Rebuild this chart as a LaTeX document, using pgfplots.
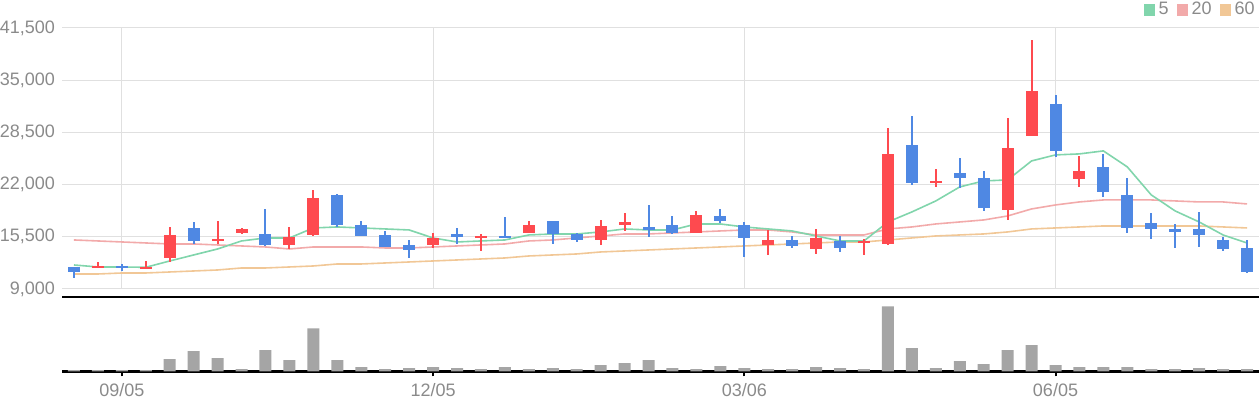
\documentclass[border=0pt]{standalone}
\usepackage{fontspec}
\setmainfont{Liberation Sans}
\usepackage{pgfplots}
\usepackage{pgfplotstable}
\pgfplotsset{compat=1.18}
\definecolor{upred}{HTML}{FE4A4F}
\definecolor{downblue}{HTML}{4F88E3}
\definecolor{maA}{HTML}{81D5AC}
\definecolor{maB}{HTML}{F2AAAA}
\definecolor{maC}{HTML}{F1C796}
\definecolor{volgray}{HTML}{A5A5A5}
\definecolor{gridgray}{HTML}{E0E0E0}
\definecolor{labelgray}{HTML}{8A8A8A}

% up (red) candles: x open high low close
\pgfplotstableread{
x o h l c
1 11620 12360 11620 11870
3 11490 12490 11490 11740
4 12860 16725 12360 15730
6 14980 17470 14610 15230
7 15980 16600 15850 16480
9 14480 16725 13980 15480
10 15730 21335 15600 20340
15 14480 15980 14110 15355
17 15355 15850 13735 15600
19 15980 17470 15980 16975
22 15100 17600 14480 16850
23 16975 18470 16230 17350
26 15980 18720 15980 18220
29 14480 16350 13240 15100
31 13980 16480 13360 15355
33 14730 15230 13240 14980
34 14610 29060 14480 25820
36 22210 23950 21710 22455
39 18840 30300 17600 26570
40 28060 40020 28060 33670
42 22700 25570 21710 23700
}\up
% down (blue) candles
\pgfplotstableread{
x o h l c
0 11740 11740 10370 11120
2 11870 12115 11240 11620
5 16600 17350 14610 14980
8 15850 18970 14360 14480
11 20710 20840 16725 16975
12 16975 17470 15600 15600
13 15730 16230 14230 14230
14 14480 15100 12860 13860
16 15850 16600 14610 15480
18 15600 17970 15355 15355
20 17470 17470 14610 15850
21 15850 15980 14860 15100
24 16725 19470 15480 16350
25 16975 18100 15850 15980
27 18100 18970 17220 17470
28 16975 17350 12990 15355
30 15100 15600 14110 14360
32 14980 15600 13610 14110
35 26940 30550 21960 22210
37 23450 25320 21580 22830
38 22830 23700 18720 19090
41 32050 33170 25450 26190
43 24200 25820 20460 21085
44 20710 22830 15980 16600
45 17220 18470 15230 16480
46 16480 17100 14110 16100
47 16480 18600 14230 15730
48 15100 15480 13735 13980
49 14110 15100 10990 11120
}\down
% moving averages
\pgfplotstableread{
x ma5 ma20 ma60
0 11990 15105 10868
1 11741 14981 10868
2 11741 14856 10993
3 11700 14731 10993
4 12489 14607 11118
5 13237 14607 11243
6 13984 14482 11367
7 14981 14358 11617
8 15355 14233 11617
9 15355 13984 11741
10 16600 14233 11866
11 16725 14233 12115
12 16600 14233 12115
13 16476 14108 12240
14 16351 14108 12364
15 15355 14233 12489
16 14856 14358 12613
17 14981 14482 12738
18 15105 14607 12862
19 15728 14981 13111
20 15853 15105 13237
21 15853 15355 13361
22 16102 15603 13610
23 16476 15853 13735
24 16351 15853 13859
25 16351 15977 13984
26 17098 16102 14108
27 17098 16227 14233
28 16725 16351 14358
29 16476 16351 14482
30 16227 16102 14607
31 15603 15728 14731
32 14981 15728 14856
33 14981 15728 14856
34 17347 16476 15105
35 18594 16725 15355
36 19964 17098 15603
37 21709 17347 15728
38 22455 17597 15853
39 22580 18094 16102
40 24947 18968 16476
41 25696 19466 16600
42 25821 19840 16725
43 26194 20089 16849
44 24199 20089 16849
45 20712 20089 16849
46 18718 19964 16849
47 17347 19840 16849
48 15728 19840 16725
49 14731 19590 16600
}\ma
% volume (relative units)
\pgfplotstableread{
x v
0 4
1 4
2 4
3 4
4 37
5 61
6 40
7 7
8 64
9 34
10 130
11 34
12 13
13 7
14 10
15 13
16 10
17 7
18 13
19 7
20 10
21 7
22 19
23 25
24 34
25 10
26 7
27 16
28 10
29 7
30 7
31 13
32 10
33 7
34 196
35 70
36 10
37 31
38 22
39 64
40 79
41 19
42 13
43 13
44 13
45 7
46 7
47 10
48 7
49 7
}\vol

\pgfplotsset{
  candlewick/.style={forget plot, mark=none, draw=none,
    error bars/.cd, y dir=both, y explicit, error mark=none,
    error bar style={line width=1pt, draw=#1}},
  candlebody/.style={forget plot, mark=none, draw=none,
    error bars/.cd, y dir=both, y explicit, error mark=none,
    error bar style={line width=6pt, draw=#1}},
}

\begin{document}
\begin{tikzpicture}
\useasboundingbox (0pt,0pt) rectangle (630pt,200pt);
\begin{axis}[
  at={(31pt,55.5pt)}, anchor=south west,
  width=598.5pt, height=130.5pt, scale only axis,
  xmin=-0.5, xmax=49.5, ymin=9000, ymax=41500,
  axis line style={draw=none},
  xtick={2,15,28,41}, xticklabels={},
  ytick={9000,15500,22000,28500,35000,41500},
  scaled y ticks=false,
  major tick length=0pt,
  grid=major, grid style={draw=gridgray, line width=0.5pt},
  tick label style={font=\fontsize{9}{9}\selectfont, text=labelgray},
  yticklabel style={/pgf/number format/fixed, /pgf/number format/1000 sep={,}, /pgf/number format/assume math mode=true},
  clip=false,
  legend image code/.code={\fill[#1, draw=none] (0pt,-3pt) rectangle (5.5pt,3pt);},
  legend style={at={(axis description cs:1,1)}, anchor=east, xshift=-1.5pt, yshift=9pt,
    draw=none, fill=none, inner sep=0pt, font=\fontsize{9}{9}\selectfont, text=labelgray,
    legend columns=-1, nodes={inner sep=0.5pt},
    /tikz/every odd column/.append style={column sep=1.5pt},
    /tikz/every even column/.append style={column sep=3.5pt}},
]
\addplot[forget plot, maC, line width=0.8pt] table[x=x, y=ma60]{\ma};
\addplot[forget plot, maB, line width=0.8pt] table[x=x, y=ma20]{\ma};
\addplot[forget plot, maA, line width=0.8pt] table[x=x, y=ma5]{\ma};
\addplot[candlewick=upred] table[x=x, y expr={(\thisrow{h}+\thisrow{l})/2}, y error expr={(\thisrow{h}-\thisrow{l})/2}]{\up};
\addplot[candlebody=upred] table[x=x, y expr={(\thisrow{o}+\thisrow{c})/2}, y error expr={max(abs(\thisrow{c}-\thisrow{o})/2,125)}]{\up};
\addplot[candlewick=downblue] table[x=x, y expr={(\thisrow{h}+\thisrow{l})/2}, y error expr={(\thisrow{h}-\thisrow{l})/2}]{\down};
\addplot[candlebody=downblue] table[x=x, y expr={(\thisrow{o}+\thisrow{c})/2}, y error expr={max(abs(\thisrow{c}-\thisrow{o})/2,125)}]{\down};
\addlegendimage{fill=maA, draw=none}
\addlegendentry{5}
\addlegendimage{fill=maB, draw=none}
\addlegendentry{20}
\addlegendimage{fill=maC, draw=none}
\addlegendentry{60}
\end{axis}
\begin{axis}[
  at={(31pt,14.25pt)}, anchor=south west,
  width=598.5pt, height=37.25pt, scale only axis,
  xmin=-0.5, xmax=49.5, ymin=0, ymax=224,
  separate axis lines,
  axis x line=box, axis y line=none,
  x axis line style={line width=1.25pt, black},
  xtick={2,15,28,41}, xticklabels={09/05,12/05,03/06,06/05},
  xtick pos=bottom, tick align=outside, major tick length=2.5pt,
  xtick style={black, line width=1pt},
  ytick=\empty,
  tick label style={font=\fontsize{9}{9}\selectfont, text=labelgray},
  clip=false,
]
\addplot[ybar, bar width=6pt, fill=volgray, draw=none] table[x=x, y=v]{\vol};
\end{axis}
\end{tikzpicture}
\end{document}
